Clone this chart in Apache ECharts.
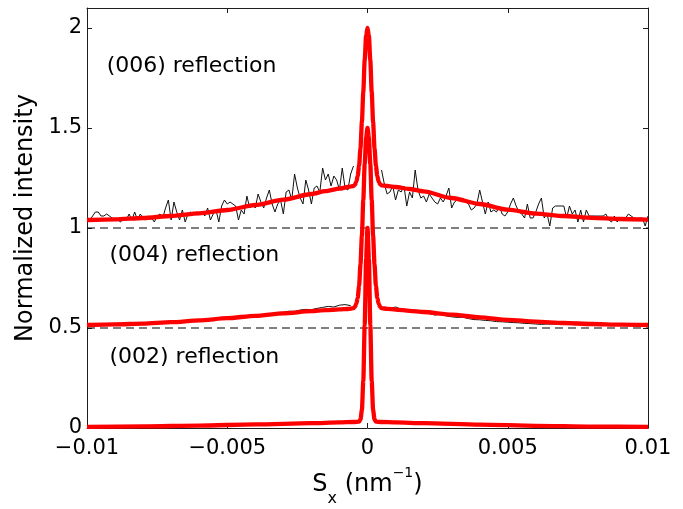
<!DOCTYPE html>
<html>
<head>
<meta charset="utf-8">
<style>
  html, body { margin: 0; padding: 0; background: #ffffff; }
  #chart { width: 683px; height: 509px; }
</style>
<script src="https://cdn.jsdelivr.net/npm/echarts@6/dist/echarts.min.js"></script>
</head>
<body>
<div id="chart"></div>
<script>
// Axis ticks
const xTickLabels = ['\u22120.01', '\u22120.005', '0', '0.005', '0.01'];
const yTickLabels = ['0', '0.5', '1', '1.5', '2'];

// Measured (006) scan, sampled every 1e-4 nm^-1 on each side of the peak
const scan006Step = 0.0001;
const scan006LeftStart = -0.0100;
const scan006Left = [
  1.05, 1.04, 1.06, 1.08, 1.08, 1.06, 1.06, 1.07, 1.06, 1.05,
  1.04, 1.04, 1.03, 1.05, 1.04, 1.07, 1.04, 1.08, 1.04, 1.07,
  1.05, 1.04, 1.06, 1.05, 1.03, 1.06, 1.07, 1.05, 1.10, 1.14,
  1.04, 1.13, 1.08, 1.04, 1.09, 1.03, 1.07, 1.08, 1.07, 1.08,
  1.07, 1.08, 1.06, 1.10, 1.04, 1.07, 1.09, 1.03, 1.11, 1.14,
  1.12, 1.13,
  1.12, 1.11, 1.04, 1.09, 1.07, 1.16, 1.10, 1.12, 1.10, 1.17,
  1.13, 1.10, 1.15, 1.19, 1.12, 1.08, 1.12, 1.14, 1.07, 1.18,
  1.19, 1.14, 1.27, 1.20, 1.15, 1.12, 1.24, 1.19, 1.12, 1.20,
  1.21, 1.18, 1.30, 1.24, 1.27, 1.21, 1.26, 1.24, 1.19, 1.30,
  1.20, 1.19, 1.27, 1.31
];
const scan006RightStart = 0.0005;
const scan006Right = [
  1.29, 1.22, 1.17, 1.18, 1.21, 1.14, 1.19, 1.18, 1.21, 1.11,
  1.18, 1.15, 1.29, 1.19, 1.15, 1.16, 1.13, 1.17, 1.15, 1.13,
  1.12, 1.15, 1.13, 1.16, 1.20, 1.10, 1.13, 1.14, 1.14, 1.15,
  1.13, 1.12, 1.09, 1.10, 1.12, 1.19, 1.13, 1.07, 1.13, 1.08,
  1.09, 1.08, 1.11, 1.07, 1.06, 1.08,
  1.12, 1.15, 1.11, 1.08, 1.07, 1.05, 1.12, 1.05, 1.05, 1.08,
  1.12, 1.15, 1.05, 1.07, 1.01, 1.10, 1.11, 1.11, 1.11, 1.11,
  1.05, 1.11, 1.07, 1.09, 1.03, 1.09, 1.03, 1.09, 1.06, 1.06,
  1.06, 1.06, 1.06, 1.06, 1.07, 1.04, 1.03, 1.06, 1.03, 1.05,
  1.05, 1.05, 1.07, 1.06, 1.05, 1.04, 1.05, 1.05, 1.01, 1.06
];

// Measured (004) scan, sampled every 2e-4 nm^-1
const scan004Step = 0.0002;
const scan004LeftStart = -0.0100;
const scan004Left = [
  0.516, 0.513, 0.518, 0.515, 0.519, 0.517, 0.520, 0.518, 0.522, 0.520,
  0.524, 0.522, 0.527, 0.525, 0.530, 0.528, 0.533, 0.531, 0.536, 0.535,
  0.541, 0.540, 0.545, 0.543, 0.549, 0.548, 0.554, 0.552, 0.559, 0.558,
  0.566, 0.563, 0.570, 0.572, 0.577, 0.579, 0.584, 0.583, 0.590, 0.593,
  0.592, 0.598, 0.603, 0.608, 0.605, 0.614, 0.617, 0.612
];
const scan004RightStart = 0.0006;
const scan004Right = [
  0.602, 0.598, 0.605, 0.594, 0.588, 0.586, 0.581, 0.578, 0.572, 0.565,
  0.568, 0.561, 0.556, 0.553, 0.554, 0.547, 0.542, 0.541, 0.538, 0.536,
  0.532, 0.531, 0.529, 0.527, 0.526, 0.523, 0.522, 0.520, 0.518, 0.520,
  0.519, 0.520, 0.518, 0.519, 0.516, 0.518, 0.515, 0.517, 0.514, 0.516,
  0.513, 0.515, 0.514, 0.516, 0.513, 0.515, 0.514, 0.516
];

// Fitted profiles
const fitX = [
  -0.01, -0.009, -0.008, -0.007, -0.006, -0.005, -0.004, -0.003, -0.002, -0.0015, -0.001, -0.0007,
  -0.0005, -0.00045, -0.0004, -0.00035, -0.0003, -0.00025, -0.0002, -0.00015, -0.0001, -0.00005,
  0,
  0.00005, 0.0001, 0.00015, 0.0002, 0.00025, 0.0003, 0.00035, 0.0004, 0.00045, 0.0005,
  0.0007, 0.001, 0.0015, 0.002, 0.003, 0.004, 0.005, 0.006, 0.007, 0.008, 0.009, 0.01
];
const fit006 = [
  1.040, 1.043, 1.050, 1.060, 1.073, 1.090, 1.115, 1.142, 1.170, 1.184, 1.197, 1.205,
  1.21, 1.215, 1.23, 1.26, 1.31, 1.40, 1.53, 1.68, 1.84, 1.96,
  2.00,
  1.96, 1.84, 1.68, 1.53, 1.40, 1.31, 1.26, 1.23, 1.218, 1.213,
  1.210, 1.205, 1.195, 1.183, 1.150, 1.120, 1.092, 1.072, 1.060, 1.051, 1.045, 1.042
];
const fit004 = [
  0.515, 0.518, 0.522, 0.529, 0.538, 0.549, 0.561, 0.573, 0.584, 0.589, 0.593, 0.595,
  0.599, 0.605, 0.62, 0.65, 0.71, 0.82, 0.96, 1.14, 1.32, 1.45,
  1.50,
  1.45, 1.32, 1.14, 0.96, 0.82, 0.71, 0.65, 0.62, 0.605, 0.599,
  0.596, 0.592, 0.586, 0.580, 0.567, 0.553, 0.541, 0.532, 0.525, 0.520, 0.517, 0.515
];
const fitX002 = [
  -0.01, -0.008, -0.006, -0.004, -0.002, -0.001, -0.0005, -0.0003, -0.00025, -0.0002, -0.00015, -0.0001, -0.00005,
  0,
  0.00005, 0.0001, 0.00015, 0.0002, 0.00025, 0.0003, 0.0005, 0.001, 0.002, 0.004, 0.006, 0.008, 0.01
];
const fit002 = [
  0.006, 0.008, 0.012, 0.018, 0.024, 0.028, 0.030, 0.032, 0.043, 0.09, 0.234, 0.515, 0.845,
  1.00,
  0.845, 0.515, 0.234, 0.09, 0.043, 0.032, 0.030, 0.028, 0.024, 0.017, 0.011, 0.007, 0.006
];

// Dashed reference levels
const baselines = [1, 0.5];

// Reflection annotations
const noteNames = ['(006) reflection', '(004) reflection', '(002) reflection'];
const noteX = [-0.0093, -0.0092, -0.0092];
const noteY = [1.81, 0.866, 0.352];

const FONT = 'DejaVu Sans';
const AXIS_COLOR = '#1e1e1e';
const X_MIN = -0.01, X_MAX = 0.01, X_STEP = 0.005;
const Y_MIN = 0, Y_MAX = 2.1, Y_STEP = 0.5;

function scanPairs(start, step, values) {
  return values.map((v, i) => [+(start + i * step).toFixed(5), v]);
}
function zipPairs(xs, ys) {
  return xs.map((x, i) => [x, ys[i]]);
}

const scanStyle = { color: '#111111', width: 1 };
const fitStyle = { color: '#ff0000', width: 4.3 };

const series = [];
baselines.forEach(level => {
  series.push({
    type: 'line', data: [[X_MIN, level], [X_MAX, level]],
    symbol: 'none', silent: true,
    lineStyle: { color: '#000000', width: 1.2, type: [8, 5] }
  });
});
[
  scanPairs(scan006LeftStart, scan006Step, scan006Left),
  scanPairs(scan006RightStart, scan006Step, scan006Right),
  scanPairs(scan004LeftStart, scan004Step, scan004Left),
  scanPairs(scan004RightStart, scan004Step, scan004Right)
].forEach(d => {
  series.push({ type: 'line', data: d, symbol: 'none', lineStyle: scanStyle, silent: true });
});
[
  zipPairs(fitX, fit006),
  zipPairs(fitX, fit004),
  zipPairs(fitX002, fit002)
].forEach(d => {
  series.push({
    type: 'line', data: d, symbol: 'none', smooth: 0.25, smoothMonotone: 'x',
    lineStyle: fitStyle, silent: true
  });
});
series.push({
  type: 'scatter', symbolSize: 0, silent: true,
  itemStyle: { opacity: 1 },
  data: noteNames.map((n, i) => ({ value: [noteX[i], noteY[i]], name: n })),
  label: {
    show: true, position: 'right', distance: 0,
    formatter: p => p.name,
    fontFamily: FONT, fontSize: 22, color: '#000000', opacity: 1
  }
});

const tickStyle = { show: true, inside: true, length: 5, lineStyle: { color: AXIS_COLOR, width: 1 } };
const lineStyleAxis = { show: true, onZero: false, lineStyle: { color: AXIS_COLOR, width: 1 } };

const option = {
  animation: false,
  backgroundColor: '#ffffff',
  grid: { left: 87, top: 8, width: 561, height: 420, outerBoundsMode: 'none', containLabel: false },
  xAxis: [
    {
      type: 'value', min: X_MIN, max: X_MAX, interval: X_STEP, position: 'bottom',
      axisLine: lineStyleAxis, axisTick: tickStyle, splitLine: { show: false },
      axisLabel: {
        formatter: v => xTickLabels[Math.round((v - X_MIN) / X_STEP)],
        fontFamily: FONT, fontSize: 21, color: '#000000', margin: 10
      },
      name: '{s|S}{sub|x}{t| (nm}{sup|\u22121}{t|)}',
      nameLocation: 'middle', nameGap: 35,
      nameTextStyle: {
        color: '#000000', fontFamily: FONT, fontSize: 24,
        rich: {
          s: { fontFamily: FONT, fontSize: 24, color: '#000000' },
          t: { fontFamily: FONT, fontSize: 24, color: '#000000' },
          sub: { fontFamily: FONT, fontSize: 16, color: '#000000', verticalAlign: 'bottom', padding: [28, 0, 0, 0] },
          sup: { fontFamily: FONT, fontSize: 14, color: '#000000', verticalAlign: 'top', padding: [3, 0, 0, 0] }
        }
      }
    },
    {
      type: 'value', min: X_MIN, max: X_MAX, interval: X_STEP, position: 'top',
      axisLine: lineStyleAxis, axisTick: tickStyle, axisLabel: { show: false }, splitLine: { show: false }
    }
  ],
  yAxis: [
    {
      type: 'value', min: Y_MIN, max: Y_MAX, interval: Y_STEP, position: 'left',
      axisLine: lineStyleAxis, axisTick: tickStyle, splitLine: { show: false },
      axisLabel: {
        formatter: v => yTickLabels[Math.round((v - Y_MIN) / Y_STEP)],
        fontFamily: FONT, fontSize: 21, color: '#000000', margin: 5,
        showMaxLabel: false
      },
      name: 'Normalized intensity', nameLocation: 'middle', nameGap: 48,
      nameTextStyle: { fontFamily: FONT, fontSize: 24, color: '#000000' }
    },
    {
      type: 'value', min: Y_MIN, max: Y_MAX, interval: Y_STEP, position: 'right',
      axisLine: lineStyleAxis, axisTick: tickStyle, axisLabel: { show: false }, splitLine: { show: false }
    }
  ],
  series: series
};

const chart = echarts.init(document.getElementById('chart'), null, { renderer: 'canvas' });
chart.setOption(option);
</script>
</body>
</html>
